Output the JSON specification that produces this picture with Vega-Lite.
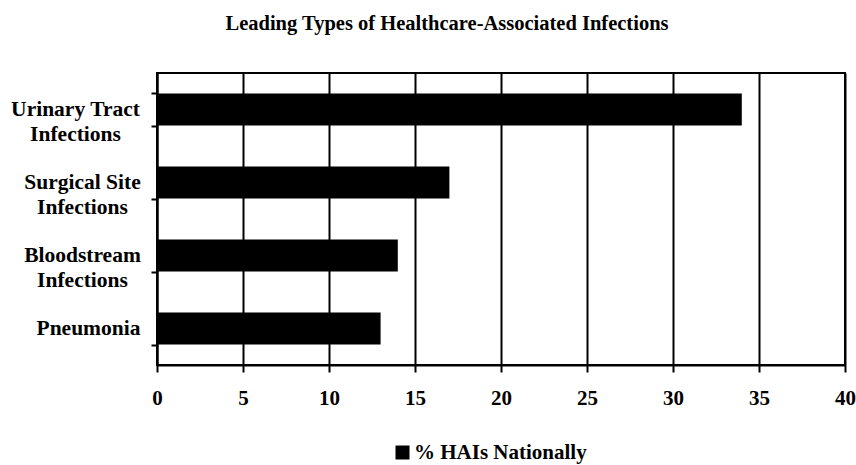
{
  "$schema": "https://vega.github.io/schema/vega-lite/v6.json",
  "width": 688,
  "height": 292,
  "autosize": "none",
  "padding": {"left": 157, "top": 73, "right": 11, "bottom": 100},
  "background": "white",
  "config": {
    "font": "Liberation Serif, DejaVu Serif, serif",
    "view": {"stroke": "black", "strokeWidth": 2}
  },
  "title": {
    "text": "Leading Types of Healthcare-Associated Infections",
    "font": "Liberation Serif, DejaVu Serif, serif",
    "fontSize": 20.5,
    "fontWeight": "bold",
    "color": "black",
    "anchor": "middle",
    "baseline": "alphabetic",
    "offset": 12,
    "dx": -54
  },
  "data": {
    "values": [
      {"type": "Urinary Tract|Infections", "pct": 34, "series": "% HAIs Nationally"},
      {"type": "Surgical Site|Infections", "pct": 17, "series": "% HAIs Nationally"},
      {"type": "Bloodstream|Infections", "pct": 14, "series": "% HAIs Nationally"},
      {"type": "Pneumonia", "pct": 13, "series": "% HAIs Nationally"}
    ]
  },
  "mark": {"type": "bar"},
  "encoding": {
    "y": {
      "field": "type",
      "type": "nominal",
      "sort": null,
      "scale": {"paddingInner": 0.56, "paddingOuter": 0.28},
      "axis": {
        "title": null,
        "labelExpr": "datum.value ? split(datum.value, '|') : ''",
        "labelFont": "Liberation Serif, DejaVu Serif, serif",
        "labelFontSize": 21.5,
        "labelFontWeight": "bold",
        "labelColor": "black",
        "labelAlign": "center",
        "labelBaseline": "middle",
        "labelLineHeight": 25,
        "labelPadding": {"condition": [{"test": "datum.value === 'Pneumonia'", "value": 63}, {"test": "datum.value === 'Urinary Tract|Infections'", "value": 76}], "value": 69},
        "labelLimit": 0,
        "domainColor": "black",
        "domainWidth": 2,
        "tickColor": "black",
        "tickWidth": 2,
        "tickSize": 6,
        "tickBand": "extent",
        "grid": false
      }
    },
    "x": {
      "field": "pct",
      "type": "quantitative",
      "scale": {"domain": [0, 40], "nice": false},
      "axis": {
        "title": null,
        "values": [0, 5, 10, 15, 20, 25, 30, 35, 40],
        "labelFont": "Liberation Serif, DejaVu Serif, serif",
        "labelFontSize": 21,
        "labelFontWeight": "bold",
        "labelColor": "black",
        "labelPadding": 15,
        "labelFlush": false,
        "domainColor": "black",
        "domainWidth": 2,
        "tickColor": "black",
        "tickWidth": 2,
        "tickSize": 7,
        "grid": true,
        "gridColor": "black",
        "gridWidth": 2,
        "gridOpacity": 1
      }
    },
    "color": {
      "field": "series",
      "type": "nominal",
      "scale": {"range": ["black"]},
      "legend": {
        "title": null,
        "orient": "none",
        "legendX": 235,
        "legendY": 369,
        "symbolType": "square",
        "symbolSize": 196,
        "symbolStrokeWidth": 0,
        "labelFont": "Liberation Serif, DejaVu Serif, serif",
        "labelFontSize": 21,
        "labelFontWeight": "bold",
        "labelColor": "black",
        "labelOffset": 1,
        "labelLimit": 0
      }
    }
  }
}
